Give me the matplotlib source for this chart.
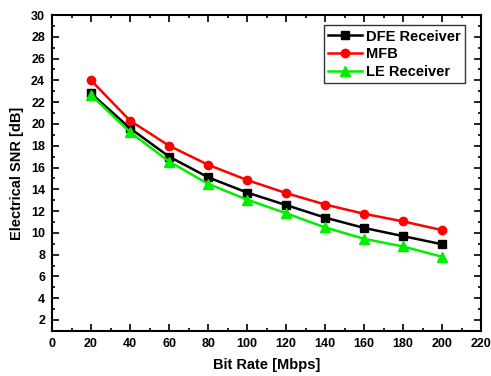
import matplotlib
matplotlib.use('Agg')
import matplotlib.pyplot as plt
from matplotlib.ticker import MultipleLocator

plt.rcParams['font.family'] = ['Liberation Sans', 'DejaVu Sans']
plt.rcParams['font.weight'] = 'bold'

bit_rate = [20, 40, 60, 80, 100, 120, 140, 160, 180, 200]
dfe = [22.8, 19.6, 17.0, 15.1, 13.7, 12.55, 11.4, 10.45, 9.7, 8.95]
mfb = [24.0, 20.3, 18.0, 16.25, 14.85, 13.65, 12.6, 11.75, 11.05, 10.25]
le = [22.65, 19.25, 16.55, 14.5, 13.05, 11.8, 10.5, 9.45, 8.75, 7.8]

fig = plt.figure(figsize=(4.91, 3.76), dpi=100)
ax = fig.add_axes([0.106, 0.12, 0.874, 0.84])

ax.plot(bit_rate, dfe, color='black', marker='s', markersize=5.5, lw=1.8, label='DFE Receiver')
ax.plot(bit_rate, mfb, color='#ff0000', marker='o', markersize=6, lw=1.8, label='MFB')
ax.plot(bit_rate, le, color='#00ee00', marker='^', markersize=6.5, lw=1.8, label='LE Receiver')

ax.set_xlim(0, 220)
ax.set_ylim(1, 30)
ax.xaxis.set_major_locator(MultipleLocator(20))
ax.xaxis.set_minor_locator(MultipleLocator(10))
ax.yaxis.set_major_locator(MultipleLocator(2))
ax.yaxis.set_minor_locator(MultipleLocator(1))
# all ticks point inward, on all four sides
ax.tick_params(which='both', direction='in', top=True, right=True, labelsize=9, width=1.2, pad=5)
ax.tick_params(which='major', length=5)
ax.tick_params(which='minor', length=2.5)
for lab in ax.get_xticklabels() + ax.get_yticklabels():
    lab.set_fontweight('bold')

for s in ax.spines.values():
    s.set_linewidth(1.5)

ax.set_xlabel('Bit Rate [Mbps]', fontsize=10.5, fontweight='bold', labelpad=6)
ax.set_ylabel('Electrical SNR [dB]', fontsize=10.5, fontweight='bold', labelpad=5)

leg = ax.legend(loc='upper right', fontsize=10.5, frameon=True, fancybox=False,
                edgecolor='black', handlelength=2.3, handletextpad=0.3,
                borderpad=0.3, labelspacing=0.25, borderaxespad=0,
                bbox_to_anchor=(0.963, 0.968))
leg.get_frame().set_linewidth(1.0)
for t in leg.get_texts():
    t.set_fontweight('bold')

fig.savefig('out.png', dpi=100)
